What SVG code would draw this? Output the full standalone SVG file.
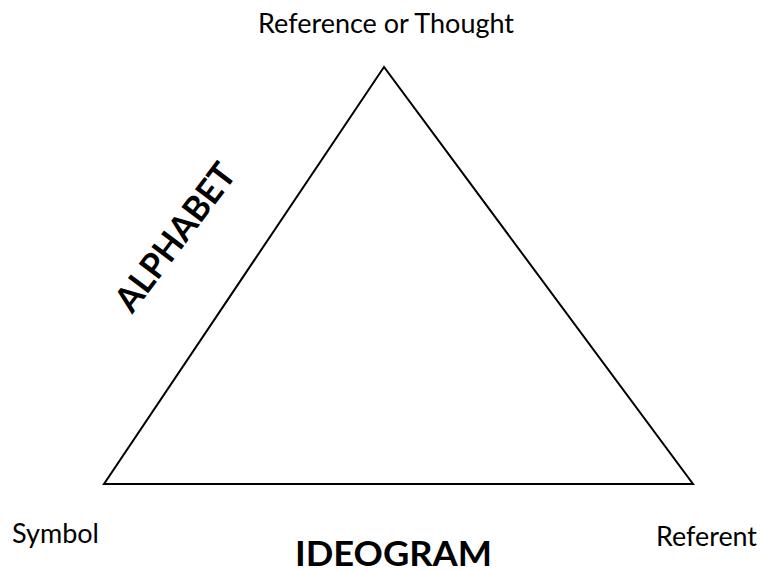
<svg xmlns="http://www.w3.org/2000/svg" width="761" height="571" viewBox="0 0 761 571">
  <style>
    .label { font-family: Lato, "Open Sans", "Liberation Sans", sans-serif; font-size: 26px; fill: #000; }
    .big { font-family: Lato, "Open Sans", "Liberation Sans", sans-serif; font-size: 35px; font-weight: bold; fill: #000; }
    .edge { stroke: #000; stroke-width: 2; fill: none; stroke-linejoin: miter; }
  </style>
  <rect width="761" height="571" fill="#fff"/>

  <!-- triangle sides -->
  <g id="connectors">
    <polygon class="edge" points="384,67 104,484 693,484"/>
  </g>

  <!-- corner labels -->
  <g id="thought">
    <text class="label" x="258" y="33" textLength="256" lengthAdjust="spacingAndGlyphs">Reference or Thought</text>
  </g>
  <g id="symbol">
    <text class="label" x="12" y="543" textLength="87" lengthAdjust="spacingAndGlyphs">Symbol</text>
  </g>
  <g id="referent">
    <text class="label" x="656" y="546" textLength="101" lengthAdjust="spacingAndGlyphs">Referent</text>
  </g>

  <!-- side labels -->
  <g id="alphabet">
    <text class="big" x="0" y="0" text-anchor="middle" textLength="175" lengthAdjust="spacingAndGlyphs" transform="translate(185,244.5) rotate(-53)">ALPHABET</text>
  </g>
  <g id="ideogram">
    <text class="big" x="295" y="566" textLength="197" lengthAdjust="spacingAndGlyphs">IDEOGRAM</text>
  </g>
</svg>
